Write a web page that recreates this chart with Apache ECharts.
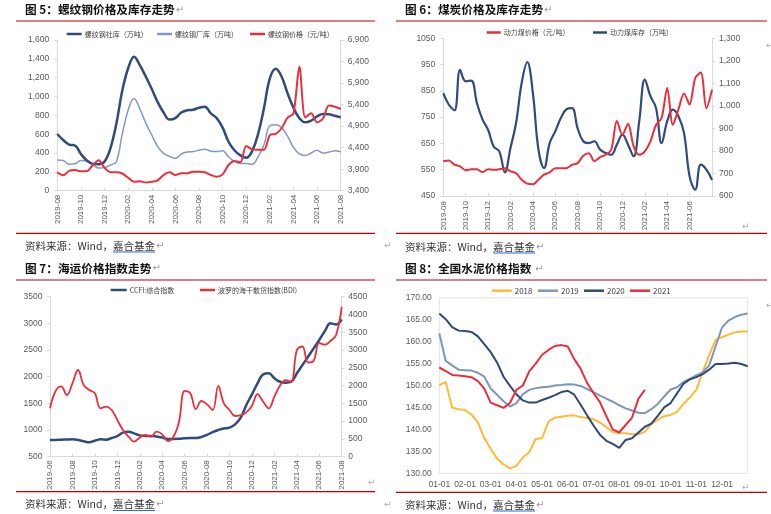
<!DOCTYPE html>
<html><head><meta charset="utf-8">
<script src="https://cdn.jsdelivr.net/npm/echarts@6/dist/echarts.min.js"></script>
<style>html,body{margin:0;padding:0;background:#fff}#c{width:771px;height:514px}</style>
</head><body><div id="c"></div>
<script>
// ===== 图5 螺纹钢 (half-month steps from 2019-08) =====
const rebarTicks = ['2019-08','2019-10','2019-12','2020-02','2020-04','2020-06','2020-08','2020-10','2020-12','2021-02','2021-04','2021-06','2021-08'];
const rebarSocialStock = [602,538,490,480,390,320,285,280,310,450,710,1060,1300,1423,1330,1210,1080,940,830,755,770,830,855,860,880,890,820,770,670,520,430,375,350,420,600,875,1193,1295,1210,1034,880,770,726,745,790,815,812,795,780];
const rebarMillStock = [326,320,280,285,320,315,280,240,245,273,308,600,857,980,867,715,591,467,397,365,345,390,410,415,430,440,420,415,425,360,310,290,290,280,360,485,690,700,670,580,460,390,375,400,430,400,410,425,414];
const rebarPrice = [3827,3760,3860,3880,3850,3850,3995,4110,3930,3830,3830,3800,3702,3609,3620,3590,3610,3640,3765,3827,3765,3804,3804,3841,3841,3827,3765,3725,3780,3997,4090,4059,4440,4360,4350,4350,4690,4720,4850,5095,5200,6280,5100,5198,4988,5080,5380,5350,5297];

// ===== 图6 煤炭 (half-month steps from 2019-08) =====
const coalTicks = ['2019-08','2019-10','2019-12','2020-02','2020-04','2020-06','2020-08','2020-10','2020-12','2021-02','2021-04','2021-06'];
const coalPrice = [582,585,569,563,548,552,552,540,552,550,552,556,544,537,512,497,495,512,531,540,556,556,556,569,575,603,613,582,598,607,626,735,683,725,639,607,620,658,720,747,861,721,779,840,798,899,920,784,854];
const coalStock = [1057,1005,980,1160,1109,1112,1013,940,894,820,798,705,813,924,1102,1194,1057,806,724,835,887,946,985,990,900,843,835,843,806,791,783,828,872,828,776,932,1117,1043,991,835,932,983,954,880,687,628,739,717,671];

// ===== 图7 海运 (half-month steps from 2019-06) =====
const shipTicks = ['2019-06','2019-08','2019-10','2019-12','2020-02','2020-04','2020-06','2020-08','2020-10','2020-12','2021-02','2021-04','2021-06','2021-08'];
const ccfi = [813,815,819,822,825,813,790,770,800,825,820,850,888,950,969,938,900,890,888,880,860,832,832,835,845,850,850,870,910,960,1000,1030,1044,1107,1231,1469,1670,1875,2044,2063,1970,1906,1888,1906,2063,2219,2375,2531,2688,2856,3000,2981,3076];
const bdi = [1361,1848,1980,1735,2063,2438,2016,1876,1783,1361,1407,1313,1032,750,563,422,535,610,563,703,628,441,563,985,1850,1783,1341,1566,1472,1313,1990,1500,1313,1144,1172,1247,1435,1760,1547,1361,1688,2000,2150,2110,3000,3100,2650,2700,3200,3150,3254,3423,4219];

// ===== 图8 水泥 (quarter-month steps from 01-01) =====
const cementTicks = ['01-01','02-01','03-01','04-01','05-01','06-01','07-01','08-01','09-01','10-01','11-01','12-01'];
const cement2018 = [150.1,150.8,145.0,144.6,144.4,143.4,141.6,138.0,135.6,133.3,132.0,131.1,131.7,133.6,134.8,137.8,138.0,141.8,142.7,142.9,143.1,143.2,142.8,142.6,142.3,141.6,140.5,139.4,139.2,139.1,138.9,138.9,139.5,141.2,142.2,143.0,143.3,144.0,145.8,147.3,149.0,153.1,156.9,160.4,161.0,161.6,162.1,162.3,162.3];
const cement2019 = [161.9,155.6,154.6,153.6,153.5,153.4,152.9,152.0,149.3,147.9,146.4,145.2,146.0,148.0,149.0,149.4,149.6,149.7,150.0,150.1,150.3,150.2,149.9,149.2,148.5,147.7,147.0,146.3,145.5,144.8,144.3,143.8,143.7,144.6,145.8,147.5,149.1,149.6,150.8,151.5,152.3,153.0,154.6,158.9,163.2,164.8,165.6,166.1,166.4];
const cement2020 = [166.4,165.1,163.3,162.5,162.4,162.2,161.2,159.4,157.6,155.2,152.0,149.9,148.0,146.6,146.1,146.1,146.7,147.2,147.8,148.5,148.8,147.9,145.6,143.2,140.9,138.8,137.4,136.7,135.8,137.6,138.0,139.3,140.6,141.3,143.1,145.0,146.0,148.2,150.4,151.4,151.9,152.6,153.6,154.9,154.9,155.0,155.2,154.9,154.4];
const cement2021 = [154.1,153.3,152.4,152.3,152.1,151.9,151.0,149.3,146.1,145.5,144.9,146.0,149.0,150.0,153.2,155.0,157.0,158.1,159.0,159.2,158.9,156.0,153.8,150.6,148.3,146.2,143.0,140.0,139.3,141.0,142.7,147.0,149.0];

// ===== styles =====
const NUMF = '"Liberation Sans","Noto Sans CJK SC",sans-serif';
const CJK = '"Noto Sans CJK SC",sans-serif';
const NAVY = '#2F4C7D', LIGHT = '#8199C2', RED = '#EA2F3B', DARKRED = '#C00000';
const Y18 = '#FFBB33', B19 = '#7D97BC', N20 = '#2E4A78', R21 = '#E8303C';
const AX = '#D9D9D9', LBL = '#595959';

const idx = a => a.map((v, i) => [i, v]);
const thou = v => Number(v).toLocaleString('en-US');

const mctx = document.createElement('canvas').getContext('2d');
const tw = (t, f) => { mctx.font = f; return mctx.measureText(t).width; };

function xAx(g, max, ticks, opts) {
  opts = opts || {};
  return {
    type: 'value', gridIndex: g, min: 0, max: max, interval: 4,
    axisLine: { show: opts.noLine ? false : true, lineStyle: { color: AX } },
    axisTick: { show: opts.noLine ? false : true, inside: true, length: 3, lineStyle: { color: AX } },
    splitLine: { show: false },
    axisLabel: {
      rotate: opts.flat ? 0 : 90, fontSize: opts.fs || 8, color: LBL, fontFamily: NUMF, margin: opts.margin || 4,
      showMinLabel: true, showMaxLabel: true,
      formatter: v => (ticks[v / 4] !== undefined ? ticks[v / 4] : '')
    }
  };
}
function yAx(g, pos, min, max, interval, fmt, margin, opts) {
  opts = opts || {};
  return {
    type: 'value', gridIndex: g, position: pos, min: min, max: max, interval: interval,
    axisLine: { show: !opts.noLine, lineStyle: { color: AX } },
    axisTick: { show: !opts.noLine, length: 3, lineStyle: { color: AX } },
    splitLine: { show: false },
    axisLabel: { fontSize: opts.fs || 8.5, color: LBL, fontFamily: NUMF, margin: margin, formatter: fmt }
  };
}
function ln(name, xi, yi, data, color, width, smooth, z) {
  return {
    name: name, type: 'line', xAxisIndex: xi, yAxisIndex: yi, data: idx(data),
    smooth: smooth, symbol: 'none', z: z || 2,
    lineStyle: { color: color, width: width }, itemStyle: { color: color }
  };
}
function lg(name, left, cy, w, fs) {
  return {
    data: [name], left: left, top: cy - 5, padding: 0, itemGap: 0,
    icon: 'rect', itemWidth: w || 15, itemHeight: 2.5,
    textStyle: { fontSize: fs || 7, color: '#404040', fontFamily: CJK, lineHeight: 10, padding: [0, 0, 0, -2] }
  };
}

const graphic = [];
function hline(x1, x2, y) {
  graphic.push({ type: 'line', shape: { x1: x1, y1: y, x2: x2, y2: y }, style: { stroke: DARKRED, lineWidth: 1.2 }, silent: true });
}
function txt(x, y, text, font, fill) {
  graphic.push({ type: 'text', x: 0, y: 0, silent: true,
    style: { x: x, y: y, text: text, font: font, fill: fill, textVerticalAlign: 'middle', verticalAlign: 'middle' } });
}
const TFONT = 'bold 11.7px ' + CJK;
const SFONT = '10.5px ' + CJK;
const RFONT = '10px "DejaVu Sans",sans-serif';
function title(x, y, t) {
  txt(x, y, t, TFONT, '#111');
  txt(x + tw(t, TFONT) + 1, y, '↵', RFONT, '#9a9a9a');
}
function source(x, y) {
  const a = '资料来源：Wind，', b = '嘉合基金';
  const wa = tw(a, SFONT), wb = tw(b, SFONT);
  txt(x, y, a, SFONT, '#333');
  txt(x + wa, y, b, SFONT, '#333');
  graphic.push({ type: 'line', shape: { x1: x + wa, y1: y + 6, x2: x + wa + wb, y2: y + 6 }, style: { stroke: '#2F6FD0', lineWidth: 1.2 }, silent: true });
  txt(x + wa + wb + 1, y, '↵', RFONT, '#9a9a9a');
}

// titles & rules
title(25, 10, '图 5：螺纹钢价格及库存走势');
title(405, 10, '图 6：煤炭价格及库存走势');
title(25, 268.5, '图 7：海运价格指数走势');
title(405, 269, '图 8：全国水泥价格指数 ');
hline(16, 375, 21); hline(396, 767, 21);
hline(16, 375, 233.3); hline(396, 767, 233.3);
hline(16, 375, 280); hline(396, 767, 280);
hline(16, 375, 491.7); hline(396, 767, 492.3);
source(25, 246); source(405, 247);
source(25, 504.5); source(405, 505);
// stray paragraph marks
txt(742, 227, '↵', '9px "DejaVu Sans"', '#aaa');
txt(742, 488, '↵', '9px "DejaVu Sans"', '#aaa');
txt(368, 483, '↵', '9px "DejaVu Sans"', '#aaa');
txt(384, 246, '↵', '9px "DejaVu Sans"', '#aaa');
txt(384, 505, '↵', '9px "DejaVu Sans"', '#aaa');
txt(766, 46, '↵', '9px "DejaVu Sans"', '#aaa');
txt(766, 306, '↵', '9px "DejaVu Sans"', '#aaa');

const option = {
  animation: false,
  backgroundColor: '#fff',
  textStyle: { fontFamily: NUMF },
  grid: [
    { left: 57.3, top: 40, width: 283.4, height: 150.7 },
    { left: 443.3, top: 38.3, width: 268.7, height: 157.7 },
    { left: 50, top: 296.7, width: 291.7, height: 160 },
    { left: 439.3, top: 297.7, width: 308.4, height: 175.6, show: true, borderColor: '#E3E3E3', borderWidth: 1 }
  ],
  xAxis: [
    xAx(0, 48, rebarTicks, { margin: 4 }),
    xAx(1, 48, coalTicks, { margin: 5 }),
    xAx(2, 52, shipTicks, { margin: 3.5 }),
    xAx(3, 48, cementTicks, { flat: true, noLine: true, fs: 8.5, margin: 7 })
  ],
  yAxis: [
    yAx(0, 'left', 0, 1600, 200, thou, 8),
    yAx(0, 'right', 3400, 6900, 500, thou, 7),
    yAx(1, 'left', 450, 1050, 100, v => String(v), 8),
    yAx(1, 'right', 600, 1300, 100, thou, 7),
    yAx(2, 'left', 500, 3500, 500, v => String(v), 7.5),
    yAx(2, 'right', 0, 4500, 500, v => String(v), 6.5),
    yAx(3, 'left', 130, 170, 5, v => v.toFixed(2), 7.5, { noLine: true })
  ],
  legend: [
    lg('螺纹钢社库（万吨）', 66.7, 34),
    lg('螺纹钢厂库（万吨）', 157, 34),
    lg('螺纹钢价格（元/吨）', 250, 34),
    lg('动力煤价格（元/吨）', 486.7, 32.5, 14),
    lg('动力煤库存（万吨）', 593, 32.5, 14),
    lg('CCFI:综合指数', 110.7, 290, 16),
    lg('波罗的海干散货指数(BDI)', 200, 290, 15),
    lg('2018', 491.7, 290.7, 20, 8),
    lg('2019', 538, 290.7, 20, 8),
    lg('2020', 584, 290.7, 20, 8),
    lg('2021', 630, 290.7, 20, 8)
  ],
  series: [
    ln('螺纹钢社库（万吨）', 0, 0, rebarSocialStock, NAVY, 2.5, 0.4, 3),
    ln('螺纹钢厂库（万吨）', 0, 0, rebarMillStock, LIGHT, 1.5, 0.4, 2),
    ln('螺纹钢价格（元/吨）', 0, 1, rebarPrice, RED, 2, 0.3, 4),
    ln('动力煤价格（元/吨）', 1, 2, coalPrice, RED, 2, 0.3, 3),
    ln('动力煤库存（万吨）', 1, 3, coalStock, NAVY, 2.2, 0.4, 2),
    ln('CCFI:综合指数', 2, 4, ccfi, NAVY, 2.5, 0.4, 2),
    ln('波罗的海干散货指数(BDI)', 2, 5, bdi, RED, 1.8, 0.4, 3),
    ln('2018', 3, 6, cement2018, Y18, 2, false, 2),
    ln('2019', 3, 6, cement2019, B19, 2, false, 2),
    ln('2020', 3, 6, cement2020, N20, 2, false, 3),
    ln('2021', 3, 6, cement2021, R21, 2, false, 4)
  ],
  graphic: graphic
};
const chart = echarts.init(document.getElementById('c'), null, { renderer: 'canvas' });
chart.setOption(option);
</script>
</body></html>
